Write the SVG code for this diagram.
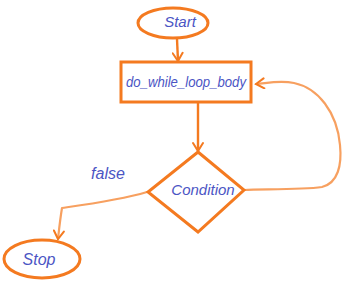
<svg xmlns="http://www.w3.org/2000/svg" width="348" height="302" viewBox="0 0 348 302">
  <style>
    .node { fill: none; stroke: #f47a20; stroke-width: 3; }
    .edge { fill: none; stroke: #f7a060; stroke-width: 2.2; stroke-linecap: round; stroke-linejoin: round; }
    .edge-dark { fill: none; stroke: #f47a20; stroke-width: 2.4; stroke-linecap: round; }
    .label { font-family: "Liberation Sans", Arial, sans-serif; font-style: italic; fill: #4b55c4; font-size: 14px; text-anchor: middle; }
  </style>
  <defs>
    <marker id="open-arrow" viewBox="0 0 12 12" refX="10" refY="6" markerWidth="12" markerHeight="12" markerUnits="userSpaceOnUse" orient="auto">
      <path d="M2,1 L10,6 L2,11" fill="none" stroke="#f47a20" stroke-width="2" stroke-linecap="round"/>
    </marker>
  </defs>

  <rect width="348" height="302" fill="#ffffff"/>

  <g id="connectors">
    <!-- start to loop body -->
    <path class="edge-dark" d="M177,39 L178,61" marker-end="url(#open-arrow)"/>
    <!-- loop body to condition -->
    <path class="edge-dark" d="M198,103 L198,151" marker-end="url(#open-arrow)"/>
    <!-- condition true: back to loop body -->
    <path class="edge" d="M244,190 C262,189 300,190 322,187 C338,183 342,165 340,145 C337,112 318,88 294,83 C280,80 268,83 256,84" marker-end="url(#open-arrow)"/>
    <!-- condition false: to stop -->
    <path class="edge" d="M147,192 C120,200 90,204 62,208 C60,220 59,230 58,239" marker-end="url(#open-arrow)"/>
  </g>

  <g id="start">
    <ellipse class="node" cx="173" cy="23" rx="35" ry="15"/>
    <text class="label" x="180" y="27" style="font-size:15px">Start</text>
  </g>

  <g id="loop-body">
    <rect class="node" x="121" y="62" width="130" height="40"/>
    <text class="label" x="186" y="87" textLength="120" lengthAdjust="spacingAndGlyphs">do_while_loop_body</text>
  </g>

  <g id="condition">
    <polygon class="node" points="198,152 244,190 198,232 148,192"/>
    <text class="label" x="203" y="195" style="font-size:15px">Condition</text>
  </g>

  <g id="stop">
    <ellipse class="node" cx="42" cy="259" rx="38" ry="19"/>
    <text class="label" x="39" y="265" style="font-size:16px">Stop</text>
  </g>

  <text class="label" x="108" y="179" style="font-size:16px">false</text>
</svg>
